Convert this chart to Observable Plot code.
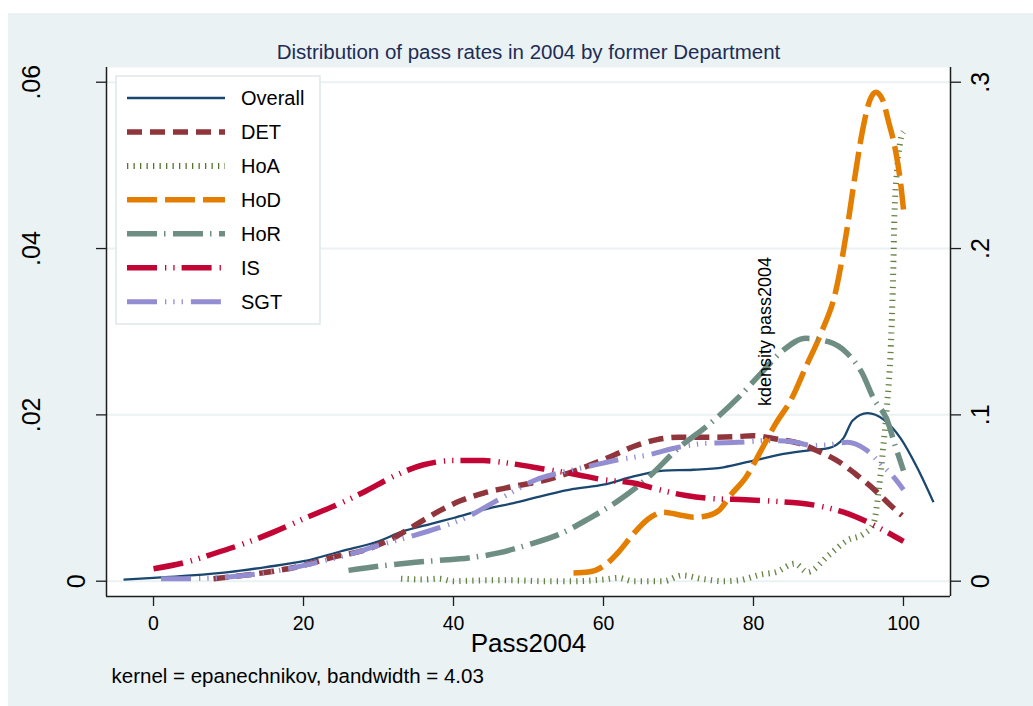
<!DOCTYPE html>
<html><head><meta charset="utf-8">
<script src="https://cdn.jsdelivr.net/npm/d3@7"></script>
<script src="https://cdn.jsdelivr.net/npm/@observablehq/plot@0.6"></script>
<style>
html,body{margin:0;padding:0;background:#fff;}
#wrap{position:relative;width:1033px;height:706px;overflow:hidden;}
#bg{position:absolute;left:8px;top:13px;width:1025px;height:693px;background:#eaf2f3;}
#chart{position:absolute;left:0;top:0;}
</style></head><body>
<div id="wrap"><div id="bg"></div><div id="chart"></div></div>
<script>
// ---- Data ----
const titleText = "Distribution of pass rates in 2004 by former Department";
const xLabel = "Pass2004";
const y2Label = "kdensity pass2004";
const captionText = "kernel = epanechnikov, bandwidth = 4.03";

const seriesNames = ["Overall", "DET", "HoA", "HoD", "HoR", "IS", "SGT"];

const xTicks = [0, 20, 40, 60, 80, 100];
const yTicksLeft = [0, 0.02, 0.04, 0.06];
const yTickLabelsLeft = ["0", ".02", ".04", ".06"];
const yTicksRight = [0, 0.1, 0.2, 0.3];
const yTickLabelsRight = ["0", ".1", ".2", ".3"];

// [Pass2004, density]
const overall = [[-4,0.0002],[0,0.0004],[5,0.0007],[10,0.0011],[15,0.0017],[20,0.0024],[25,0.0036],[30,0.0048],[33,0.0059],[37,0.0069],[40,0.0076],[44,0.0086],[48,0.0094],[52,0.0103],[56,0.0111],[60,0.0116],[64,0.0126],[68,0.0133],[72,0.0134],[76,0.0137],[80,0.0145],[84,0.0153],[88,0.0158],[90,0.0160],[92,0.0172],[93.2,0.0193],[95.2,0.0202],[97.4,0.0194],[99.6,0.0172],[101.8,0.0137],[104,0.0095]];
const det = [[8,0.0003],[12,0.0007],[16,0.0012],[20,0.0019],[24,0.0029],[28,0.0037],[32,0.0052],[35,0.0068],[38,0.0084],[41,0.0097],[44,0.0106],[48,0.0114],[52,0.0121],[55,0.0129],[58,0.0139],[61,0.0150],[64,0.0162],[67,0.0170],[70,0.0173],[74,0.0173],[78,0.0174],[80,0.0175],[83,0.0171],[86,0.0166],[88.5,0.0157],[91.5,0.0143],[94,0.0126],[96,0.0111],[98.3,0.0091],[99.8,0.0079]];
const hoa = [[33,0.0003],[36,0.0002],[38,0.0003],[40,0.0000],[44,0.0001],[48,0.0001],[52,0.0000],[56,0.0000],[60,0.0002],[62,0.0004],[64,0.0000],[68,0.0000],[70.5,0.0007],[73,0.0003],[76,0.0000],[78,0.0001],[81,0.0008],[83,0.0011],[85.5,0.0021],[87.2,0.0011],[90,0.0031],[92.5,0.0049],[94.7,0.0057],[96,0.0069],[96.7,0.0109],[97.3,0.0161],[97.8,0.0210],[98.3,0.0280],[98.6,0.0360],[98.8,0.0440],[99.2,0.0500],[99.6,0.0530],[100,0.0540]];
const hod = [[56,0.0010],[58,0.0011],[60,0.0018],[62,0.0035],[64,0.0057],[66,0.0075],[68,0.0083],[70,0.0080],[72,0.0077],[74,0.0079],[75.5,0.0086],[77,0.0104],[79,0.0125],[81,0.0157],[83,0.0190],[85,0.0218],[87,0.0258],[89,0.0298],[91,0.0350],[92.5,0.0425],[93.5,0.0485],[94.5,0.0540],[95.5,0.0578],[96.3,0.0588],[97.2,0.0579],[98,0.0553],[99,0.0515],[99.6,0.0480],[100,0.0447]];
const hor = [[26,0.0013],[30,0.0018],[34,0.0022],[38,0.0025],[42,0.0028],[46,0.0034],[50,0.0044],[54,0.0056],[58,0.0075],[62,0.0097],[66,0.0125],[70,0.0160],[74,0.0188],[78,0.0221],[81,0.0250],[84,0.0278],[87,0.0292],[90,0.0288],[92.5,0.0274],[94.5,0.0250],[96,0.0220],[97.8,0.0194],[99,0.0160],[100,0.0133]];
const is = [[0,0.0015],[4,0.0022],[8,0.0033],[12,0.0045],[16,0.0059],[20,0.0075],[24,0.0090],[28,0.0107],[32,0.0126],[36,0.0140],[40,0.0145],[44,0.0145],[48,0.0141],[52,0.0135],[56,0.0129],[60,0.0122],[64,0.0118],[67,0.0111],[71,0.0103],[75,0.0099],[79,0.0098],[83,0.0096],[86,0.0094],[89,0.0090],[92,0.0083],[95,0.0072],[98,0.0058],[100,0.0048]];
const sgt = [[1,0.0003],[5,0.0003],[10,0.0005],[14,0.0009],[18,0.0015],[22,0.0023],[26,0.0032],[30,0.0043],[34,0.0053],[38,0.0064],[42,0.0078],[45,0.0093],[48,0.0108],[51,0.0122],[54,0.0130],[58,0.0138],[62,0.0146],[66,0.0152],[70,0.0161],[74,0.0166],[78,0.0167],[82,0.0169],[85,0.0168],[88,0.0163],[90,0.0164],[92.5,0.0167],[95,0.0158],[97,0.0141],[98.7,0.0125],[100,0.0110]];

// ---- Styles ----
const seriesData = [overall, det, hoa, hod, hor, is, sgt];
const seriesColors = ["#1a476f", "#90353b", "#55752f", "#e37e00", "#6e8e84", "#c10534", "#938dd2"];
const seriesWidths = [2.3, 5.5, 6, 5.5, 5.5, 5.5, 5];
const seriesDash = [null, "15 8", "1.3 5.2", "30 8", "30 7 1.5 7.5", "30 8 1.3 7 1.3 7", "30 8 1.3 7 1.3 7 1.3 8"];

const font = "'Liberation Sans', Arial, Helvetica, sans-serif";
const W = 1033, H = 706;
const mL = 106, mR = 83, mT = 67, mB = 110;
const xDomain = [-6.27, 106.27];
const yDomain = [-0.00184, 0.06177];

const rows = [];
seriesNames.forEach((name, i) => seriesData[i].forEach(([p, d]) => rows.push({series: name, pass: p, density: d})));

const lineMarks = seriesNames.map((name, i) =>
  Plot.line(rows.filter(r => r.series === name), {
    x: "pass", y: "density", stroke: seriesColors[i], strokeWidth: seriesWidths[i],
    strokeDasharray: seriesDash[i] || undefined, curve: "monotone-x", strokeLinecap: "butt",
    strokeOpacity: name === "HoA" ? 0.9 : 1
  })
);

const axisColor = "#1e1e1e";
const plot = Plot.plot({
  width: W, height: H,
  marginLeft: mL, marginRight: mR, marginTop: mT, marginBottom: mB,
  style: {fontFamily: font, background: "transparent", color: "black", overflow: "visible"},
  x: {domain: xDomain, axis: null},
  y: {domain: yDomain, axis: null},
  marks: [
    Plot.frame({fill: "white", stroke: "none"}),
    Plot.ruleY(yTicksLeft, {stroke: "#eaf2f3", strokeWidth: 2}),
    ...lineMarks,
    // axis lines
    Plot.ruleX([xDomain[0], xDomain[1]], {stroke: axisColor, strokeWidth: 1.5}),
    Plot.ruleY([yDomain[0]], {stroke: axisColor, strokeWidth: 1.5}),
    // ticks
    Plot.axisY(yTicksLeft, {anchor: "left", tickSize: 10, tickFormat: () => "", stroke: axisColor, strokeWidth: 1.3, label: null}),
    Plot.axisY(yTicksLeft, {anchor: "right", tickSize: 10, tickFormat: () => "", stroke: axisColor, strokeWidth: 1.3, label: null}),
    Plot.axisX(xTicks, {anchor: "bottom", tickSize: 10, tickFormat: () => "", stroke: axisColor, strokeWidth: 1.3, label: null}),
    // tick labels
    Plot.text(xTicks, {x: d => d, text: d => String(d), frameAnchor: "bottom", dy: 27, fontSize: 19.5, lineAnchor: "middle", fill: "black"}),
    Plot.text(yTicksLeft.filter(v => v !== 0), {y: d => d, text: d => yTickLabelsLeft[yTicksLeft.indexOf(d)], frameAnchor: "left", dx: -75, rotate: -90, fontSize: 25, textAnchor: "middle", lineAnchor: "middle", fill: "black"}),
    Plot.text(yTicksLeft.filter(v => v === 0), {y: d => d, text: d => yTickLabelsLeft[yTicksLeft.indexOf(d)], frameAnchor: "left", dx: -30, rotate: -90, fontSize: 25, textAnchor: "middle", lineAnchor: "middle", fill: "black"}),
    Plot.text(yTicksRight, {y: d => d / 5, text: (d, i) => yTickLabelsRight[i], frameAnchor: "right", dx: 30, rotate: -90, fontSize: 25, textAnchor: "middle", lineAnchor: "middle", fill: "black"}),
    // titles
    Plot.text([titleText], {text: d => d, frameAnchor: "top", dy: -15, fontSize: 20.5, fill: "#1e2c55", lineAnchor: "middle"}),
    Plot.text([xLabel], {text: d => d, frameAnchor: "bottom", dy: 47, fontSize: 26, fill: "black", lineAnchor: "middle"}),
    Plot.text([y2Label], {text: d => d, frameAnchor: "top-left", dx: 659, dy: 264, rotate: -90, fontSize: 18, fill: "black", textAnchor: "middle", lineAnchor: "middle"}),
    Plot.text([captionText], {text: d => d, frameAnchor: "bottom-left", dx: 5, dy: 80, fontSize: 20.5, fill: "black", textAnchor: "start", lineAnchor: "middle"})
  ]
});
document.getElementById("chart").appendChild(plot);

// ---- Legend ----
const svg = d3.select(plot);
const lg = svg.append("g").attr("font-family", font).attr("text-anchor", "start");
lg.append("rect").attr("x", 116).attr("y", 76).attr("width", 204).attr("height", 248)
  .attr("fill", "white").attr("stroke", "#dde8ea").attr("stroke-width", 1.5);
seriesNames.forEach((name, i) => {
  const yy = 98 + i * 33.95;
  lg.append("line").attr("x1", 127).attr("x2", 225).attr("y1", yy).attr("y2", yy)
    .attr("stroke", seriesColors[i]).attr("stroke-width", seriesWidths[i])
    .attr("stroke-dasharray", seriesDash[i] || null).attr("stroke-linecap", "butt");
  lg.append("text").attr("x", 241).attr("y", yy).attr("dy", "0.35em")
    .attr("text-anchor", "start")
    .attr("font-size", 20).attr("fill", "black").text(name);
});
</script>
</body></html>
